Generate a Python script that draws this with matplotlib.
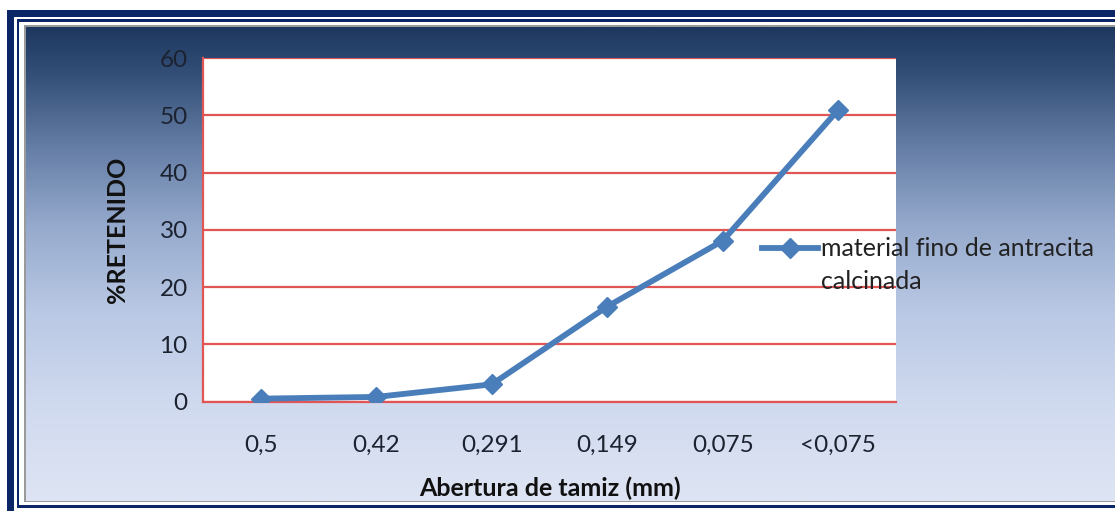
import numpy as np
import matplotlib
matplotlib.use("Agg")
import matplotlib.pyplot as plt
from matplotlib.patches import Rectangle
from matplotlib.colors import LinearSegmentedColormap
from matplotlib.legend_handler import HandlerLine2D

# Sieve analysis data
categories = ["0,5", "0,42", "0,291", "0,149", "0,075", "<0,075"]
retained = [0.5, 0.8, 3.0, 16.6, 28.1, 51.0]
series_name = "material fino de antracita\ncalcinada"
y_ticks = [0, 10, 20, 30, 40, 50, 60]
x_title = "Abertura de tamiz (mm)"
y_title = "%RETENIDO"

W, H = 1115, 511
DPI = 100
plt.rcParams["font.family"] = ["Lato", "DejaVu Sans"]

fig = plt.figure(figsize=(W / DPI, H / DPI), dpi=DPI, facecolor="white")


def px_rect(x0, y0, x1, y1, color, z):
    """Rectangle given in pixel coords with origin at top-left."""
    r = Rectangle((x0 / W, 1 - y1 / H), (x1 - x0) / W, (y1 - y0) / H,
                  transform=fig.transFigure, facecolor=color,
                  edgecolor="none", zorder=z)
    fig.patches.append(r)


class FirstLineHandler(HandlerLine2D):
    """Legend line handle aligned with the first line of a wrapped label."""

    def __init__(self, shift, **kw):
        super().__init__(**kw)
        self.shift = shift

    def create_artists(self, legend, orig_handle, xdescent, ydescent,
                       width, height, fontsize, trans):
        artists = super().create_artists(legend, orig_handle, xdescent,
                                         ydescent, width, height, fontsize,
                                         trans)
        for a in artists:
            a.set_ydata(np.asarray(a.get_ydata()) + self.shift)
        return artists


navy = "#0b2566"
# Double frame around the chart
px_rect(7, 10, W + 20, H + 20, navy, 0)
px_rect(14, 17, W + 20, H + 20, "white", 0.1)
px_rect(17, 19, W + 20, 508, navy, 0.2)
px_rect(19, 22, W + 20, 505, "white", 0.3)
px_rect(24, 25, W + 20, 502, "#9a9a9a", 0.4)

# Gradient chart background
bg = fig.add_axes([26 / W, 1 - 501 / H, (W - 26) / W, (501 - 27) / H], zorder=0.5)
stops = [(0.00, (30, 56, 96)),
         (0.10, (52, 80, 120)),
         (0.25, (100, 125, 165)),
         (0.42, (150, 170, 205)),
         (0.60, (185, 200, 228)),
         (0.80, (208, 218, 239)),
         (1.00, (222, 228, 243))]
cmap = LinearSegmentedColormap.from_list(
    "bg", [(p, tuple(c / 255 for c in rgb)) for p, rgb in stops])
grad = np.linspace(0, 1, 400).reshape(-1, 1)
bg.imshow(grad, aspect="auto", cmap=cmap, extent=[0, 1, 1, 0])
bg.set_xlim(0, 1)
bg.set_ylim(1, 0)
bg.axis("off")

# Main plot area
ax = fig.add_axes([203 / W, 1 - 401.5 / H, (896 - 203) / W, (401.5 - 58.3) / H],
                  zorder=1)
ax.set_facecolor("white")
x = np.arange(len(categories))
line, = ax.plot(x, retained, color="#4a7ebb", lw=4.2, marker="D",
                markersize=10.5, markeredgecolor="#4a7ebb", label=series_name,
                zorder=3, solid_joinstyle="round")

ax.set_xlim(-0.5, len(categories) - 0.5)
ax.set_ylim(0, 60)
ax.set_yticks(y_ticks)
ax.set_xticks(x)
ax.set_xticklabels(categories)
ax.yaxis.grid(True, color="#e25555", lw=1.6)
ax.set_axisbelow(True)
for s in ["top", "right"]:
    ax.spines[s].set_visible(False)
for s in ["left", "bottom"]:
    ax.spines[s].set_color("#e25555")
    ax.spines[s].set_linewidth(1.6)
ax.tick_params(axis="both", length=0, labelsize=17.5, colors="#1c2230")
ax.tick_params(axis="y", pad=11)
ax.tick_params(axis="x", pad=24)

ax.set_xlabel(x_title, fontsize=18, fontweight="bold", color="#111111", labelpad=15)
ax.set_ylabel(y_title, fontsize=18, fontweight="bold", color="#111111", labelpad=22)

leg = ax.legend(handler_map={line: FirstLineHandler(shift=12.5)},
                loc="center left", bbox_to_anchor=(749 / W, 1 - 265 / H),
                bbox_transform=fig.transFigure, frameon=False, fontsize=18,
                handlelength=2.25, handletextpad=0.12, borderpad=0,
                labelcolor="#222222")
for t in leg.get_texts():
    t.set_linespacing(1.5)

fig.savefig("out.png", dpi=DPI, facecolor="white")
